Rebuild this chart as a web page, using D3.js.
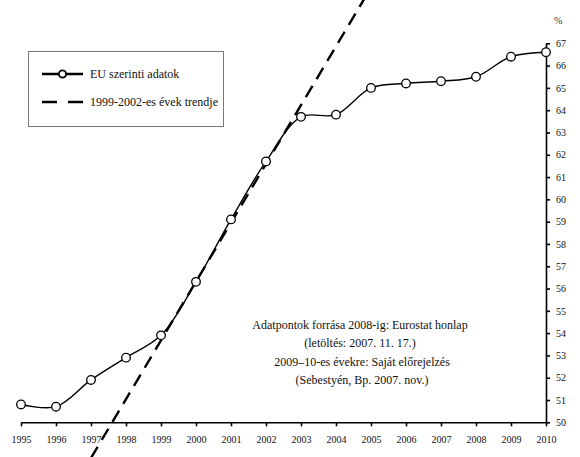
<!DOCTYPE html>
<html>
<head>
<meta charset="utf-8">
<script src="https://cdn.jsdelivr.net/npm/d3@7"></script>
<style>
	body { margin: 0; background: #fff; }
	svg { display: block; }
</style>
</head>
<body>
<script>
//Width and height
var w = 580;
var h = 457;
var serif = "'Liberation Serif', 'Times New Roman', serif";

// years on the x axis
var years = [1995, 1996, 1997, 1998, 1999, 2000, 2001, 2002, 2003, 2004, 2005, 2006, 2007, 2008, 2009, 2010];
// EU szerinti adatok (%)
var values = [50.8, 50.7, 51.9, 52.9, 53.9, 56.3, 59.1, 61.7, 63.7, 63.8, 65.0, 65.2, 65.3, 65.5, 66.4, 66.6];
// 1999-2002 trend, two points (runs past the plot)
var trendYears = [1997, 2005];
var trendValues = [48.4, 69.5];
var yTicks = [50, 51, 52, 53, 54, 55, 56, 57, 58, 59, 60, 61, 62, 63, 64, 65, 66, 67];

var legendLabels = ["EU szerinti adatok", "1999-2002-es évek trendje"];
var noteLines = [
	"Adatpontok forrása 2008-ig: Eurostat honlap",
	"(letöltés: 2007. 11. 17.)",
	"2009–10-es évekre: Saját előrejelzés",
	"(Sebestyén, Bp. 2007. nov.)"
];

var x = d3.scaleLinear().domain([1995, 2010]).range([21, 546]);
var y = d3.scaleLinear().domain([50, 67]).range([422.3, 43.3]);

//Create SVG element
var svg = d3.select("body")
		.append("svg")
		.attr("width", w)
		.attr("height", h);

// trend line (dashed, goes off both edges)
svg.append("path")
		.datum(trendValues)
		.attr("d", d3.line()
			.x(function(d, i) { return x(trendYears[i]); })
			.y(function(d) { return y(d); }))
		.attr("fill", "none")
		.attr("stroke", "#000")
		.attr("stroke-width", 2.4)
		.attr("stroke-dasharray", "13,8");

// axes
svg.append("g")
		.attr("transform", "translate(0," + y(50) + ")")
		.call(d3.axisBottom(x).tickValues(years).tickFormat(d3.format("d"))
			.tickSize(4).tickSizeOuter(0).tickPadding(10));

svg.append("g")
		.attr("transform", "translate(" + x(2010) + ",0)")
		.call(d3.axisRight(y).tickValues(yTicks).tickFormat(d3.format("d"))
			.tickSize(4).tickSizeOuter(0).tickPadding(6));

svg.selectAll(".domain, .tick line")
		.attr("stroke", "#000")
		.attr("stroke-width", 1.6);
svg.selectAll(".tick text")
		.attr("font-family", serif)
		.attr("font-size", "10px")
		.attr("fill", "#111");

svg.append("text")
		.attr("x", 554)
		.attr("y", 24)
		.attr("font-family", serif)
		.attr("font-size", "10px")
		.attr("fill", "#333")
		.text("%");

// data line
var line = d3.line()
		.x(function(d, i) { return x(years[i]); })
		.y(function(d) { return y(d); })
		.curve(d3.curveCatmullRom);

svg.append("path")
		.datum(values)
		.attr("d", line)
		.attr("fill", "none")
		.attr("stroke", "#000")
		.attr("stroke-width", 1.4);

svg.selectAll("circle.pt")
		.data(values)
		.enter()
		.append("circle")
		.attr("class", "pt")
		.attr("cx", function(d, i) { return x(years[i]); })
		.attr("cy", function(d) { return y(d); })
		.attr("r", 4.3)
		.attr("fill", "#fff")
		.attr("stroke", "#000")
		.attr("stroke-width", 1.3);

// legend
var lg = svg.append("g");
lg.append("rect")
		.attr("x", 28.5)
		.attr("y", 51.5)
		.attr("width", 195)
		.attr("height", 75)
		.attr("fill", "#fff")
		.attr("stroke", "#777")
		.attr("stroke-width", 1);
lg.append("line")
		.attr("x1", 42).attr("x2", 83)
		.attr("y1", 74).attr("y2", 74)
		.attr("stroke", "#000")
		.attr("stroke-width", 2.6);
lg.append("circle")
		.attr("cx", 62.5).attr("cy", 74)
		.attr("r", 3.6)
		.attr("fill", "#fff")
		.attr("stroke", "#000")
		.attr("stroke-width", 1.8);
lg.append("line")
		.attr("x1", 42).attr("x2", 83)
		.attr("y1", 102).attr("y2", 102)
		.attr("stroke", "#000")
		.attr("stroke-width", 2.6)
		.attr("stroke-dasharray", "15,11");
lg.selectAll("text")
		.data(legendLabels)
		.enter()
		.append("text")
		.attr("x", 90)
		.attr("y", function(d, i) { return 78 + i * 28; })
		.attr("font-family", serif)
		.attr("font-size", "12px")
		.attr("fill", "#111")
		.text(function(d) { return d; });

// source note
svg.selectAll("text.note")
		.data(noteLines)
		.enter()
		.append("text")
		.attr("class", "note")
		.attr("x", function(d, i) { return i < 2 ? 360 : 362; })
		.attr("y", function(d, i) { return 329 + i * 18.3; })
		.attr("text-anchor", "middle")
		.attr("font-family", serif)
		.attr("font-size", "12px")
		.attr("fill", "#111")
		.text(function(d) { return d; });
</script>
</body>
</html>
